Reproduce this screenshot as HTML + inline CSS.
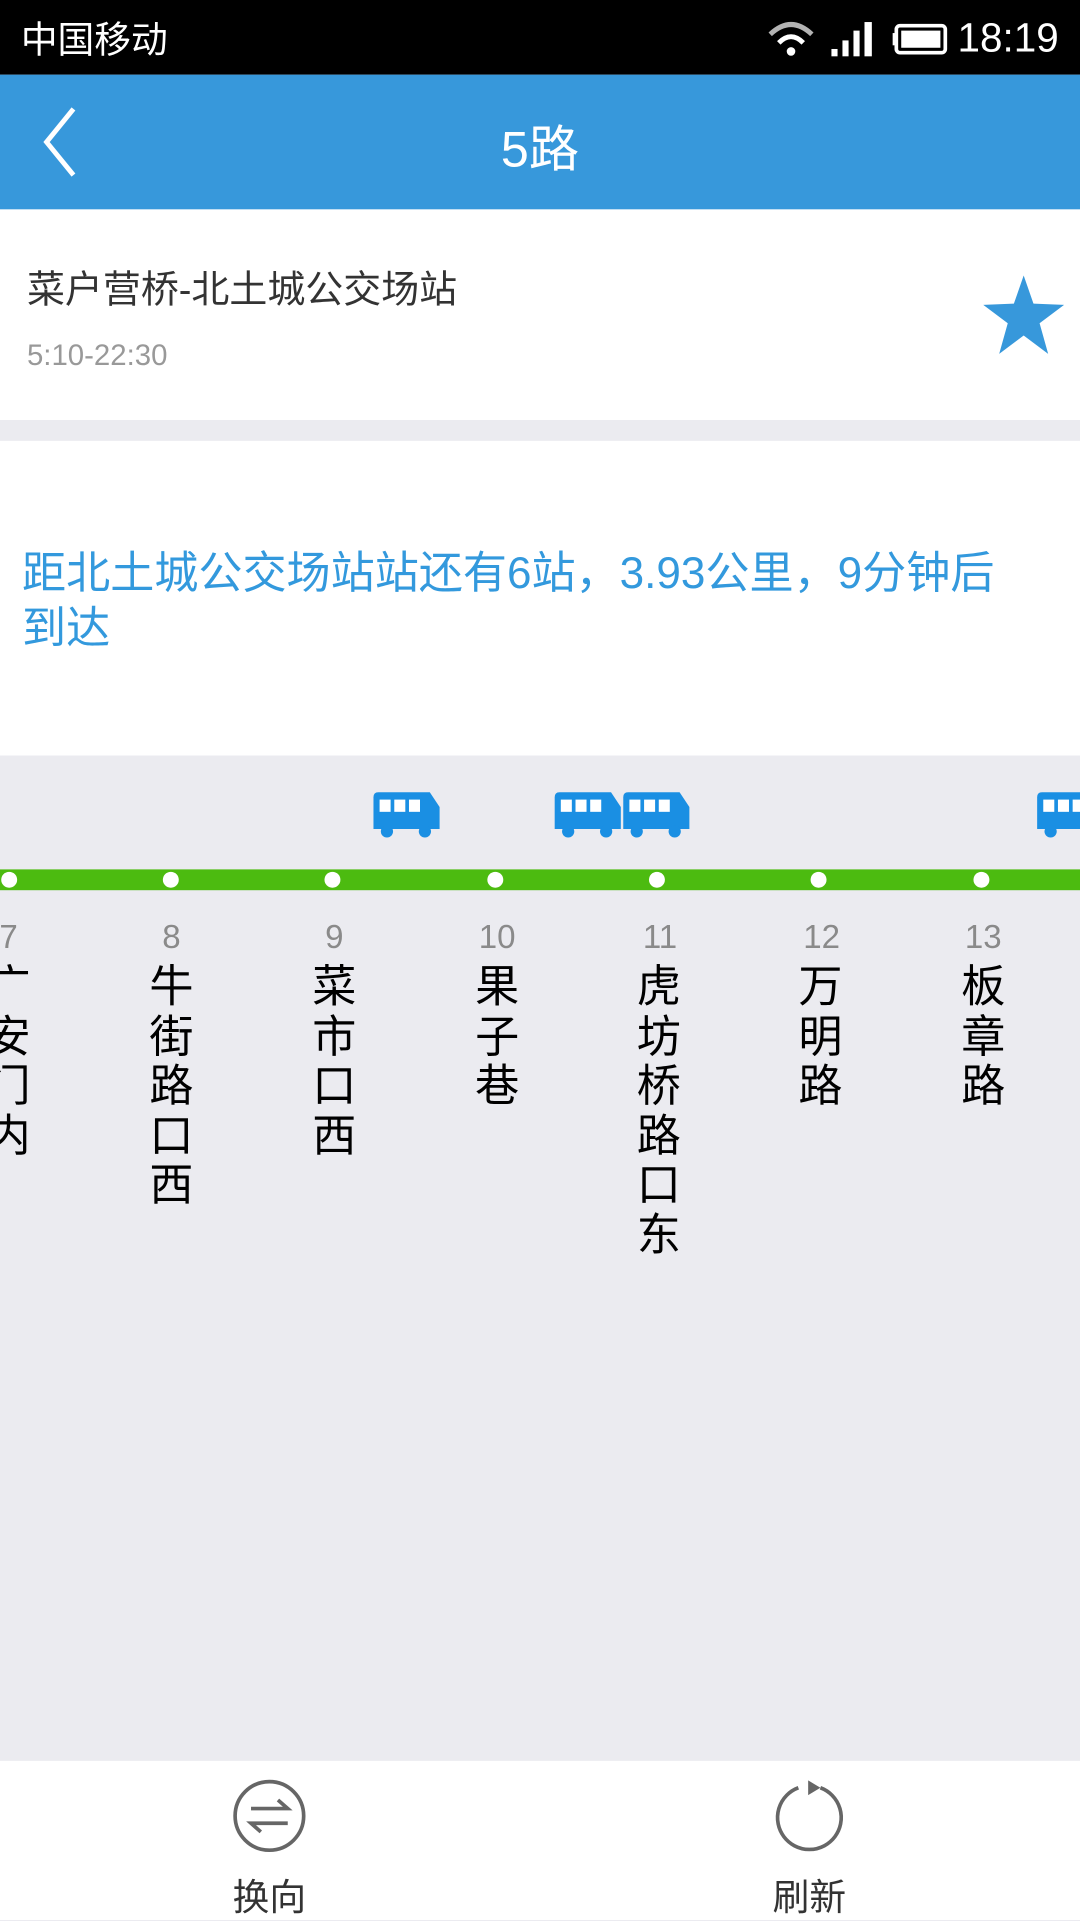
<!DOCTYPE html>
<html><head><meta charset="utf-8"><style>
*{margin:0;padding:0;box-sizing:border-box}
html,body{width:1080px;height:1920px;overflow:hidden;background:#ebebf0}
#w{position:absolute;left:0;top:0;width:882px;height:1568px;transform:scale(1.22449);transform-origin:0 0;font-family:"Liberation Sans","Noto Sans CJK SC",sans-serif;background:#ebebf0}
.a{position:absolute}
.num{position:absolute;top:750px;width:60px;margin-left:-30px;text-align:center;color:#8a8a8a;font-size:27px}
.nm{position:absolute;top:786px;width:50px;margin-left:-25px;text-align:center;color:#000;font-size:36px;line-height:40.5px}
.dot{position:absolute;top:712px;width:13px;height:13px;margin-left:-6.5px;border-radius:50%;background:#fff}
</style></head><body><div id="w">
<div class="a" style="left:0;top:0;width:882px;height:61px;background:#000"></div>
<div class="a" style="left:17px;top:8px;color:#fff;font-size:30px">中国移动</div>
<svg class="a" style="left:626px;top:14px" width="250" height="36">
<path d="M3 14 Q20 -2 37 14" stroke="#fff" stroke-width="4" fill="none" opacity=".7"/>
<path d="M10 21 Q20 11 30 21" stroke="#fff" stroke-width="4" fill="none"/>
<circle cx="20" cy="28" r="3.5" fill="#fff"/>
<rect x="53" y="26" width="5" height="6" fill="#fff"/><rect x="62" y="19" width="5" height="13" fill="#fff"/><rect x="71" y="11" width="5" height="21" fill="#fff"/><rect x="80" y="4" width="6" height="28" fill="#fff"/>
<rect x="106" y="7" width="40" height="22" rx="3" stroke="#fff" stroke-width="3" fill="none"/><rect x="110" y="11" width="32" height="14" fill="#fff"/><rect x="103" y="13" width="3" height="10" fill="#fff"/>
</svg>
<div class="a" style="left:782px;top:12px;color:#fff;font-size:33px">18:19</div>
<div class="a" style="left:0;top:61px;width:882px;height:110px;background:#3798db"></div>
<svg class="a" style="left:30px;top:86px" width="40" height="60"><path d="M30 3 L8 30 L30 57" stroke="#fff" stroke-width="4" fill="none"/></svg>
<div class="a" style="left:0;top:88px;width:882px;text-align:center;color:#fff;font-size:41px">5路</div>
<div class="a" style="left:0;top:171px;width:882px;height:172px;background:#fff"></div>
<div class="a" style="left:22px;top:211px;color:#333;font-size:31px">菜户营桥-北土城公交场站</div>
<div class="a" style="left:22px;top:277px;color:#999;font-size:24px">5:10-22:30</div>
<svg class="a" style="left:802px;top:224px" width="68" height="68"><polygon points="34,1 42,24 67,25 47,40 54,65 34,50 14,65 21,40 1,25 26,24" fill="#3798db"/></svg>
<div class="a" style="left:0;top:360px;width:882px;height:257px;background:#fff"></div>
<div class="a" style="left:18px;top:445px;width:825px;color:#3399dd;font-size:36px;line-height:45px">距北土城公交场站站还有6站，3.93公里，9分钟后到达</div>
<div class="a" style="left:0;top:710px;width:882px;height:17px;background:#4cbb10"></div>
<svg class="a" style="left:0;top:645px" width="882" height="40">
<defs><g id="b"><path d="M0 4 Q0 0 4 0 L46 0 L54 12 L54 30 L0 30 Z" fill="#1a8fe3"/><rect x="5" y="6" width="9" height="10" fill="#fff"/><rect x="17" y="6" width="9" height="10" fill="#fff"/><rect x="29" y="6" width="9" height="10" fill="#fff"/><circle cx="11" cy="32" r="5" fill="#1a8fe3"/><circle cx="42" cy="32" r="5" fill="#1a8fe3"/></g></defs>
<use href="#b" x="305" y="2"/><use href="#b" x="453" y="2"/><use href="#b" x="509" y="2"/><use href="#b" x="847" y="2"/>
</svg>
<div class="dot" style="left:7px"></div><div class="dot" style="left:139px"></div><div class="dot" style="left:271px"></div><div class="dot" style="left:404px"></div><div class="dot" style="left:536px"></div><div class="dot" style="left:668px"></div><div class="dot" style="left:801px"></div>
<div class="num" style="left:7px">7</div><div class="num" style="left:140px">8</div><div class="num" style="left:273px">9</div><div class="num" style="left:406px">10</div><div class="num" style="left:539px">11</div><div class="num" style="left:671px">12</div><div class="num" style="left:803px">13</div>
<div class="nm" style="left:7px">广<br>安<br>门<br>内</div>
<div class="nm" style="left:140px">牛<br>街<br>路<br>口<br>西</div>
<div class="nm" style="left:273px">菜<br>市<br>口<br>西</div>
<div class="nm" style="left:406px">果<br>子<br>巷</div>
<div class="nm" style="left:538px">虎<br>坊<br>桥<br>路<br>口<br>东</div>
<div class="nm" style="left:670px">万<br>明<br>路</div>
<div class="nm" style="left:803px">板<br>章<br>路</div>
<div class="a" style="left:0;top:1438px;width:882px;height:130px;background:#fff"></div>
<svg class="a" style="left:189px;top:1452px" width="64" height="64"><circle cx="31" cy="31" r="28" stroke="#666" stroke-width="3" fill="none"/><path d="M16 25 H46 L38 18 M46 37 H16 L24 44" stroke="#666" stroke-width="3" fill="none"/></svg>
<div class="a" style="left:160px;top:1525px;width:120px;text-align:center;color:#333;font-size:30px">换向</div>
<svg class="a" style="left:630px;top:1452px" width="64" height="64"><path d="M40 8 A26 26 0 1 1 22 8" stroke="#666" stroke-width="3" fill="none"/><polygon points="30,2 40,8 30,14" fill="#666"/></svg>
<div class="a" style="left:601px;top:1525px;width:120px;text-align:center;color:#333;font-size:30px">刷新</div>
</div></body></html>
